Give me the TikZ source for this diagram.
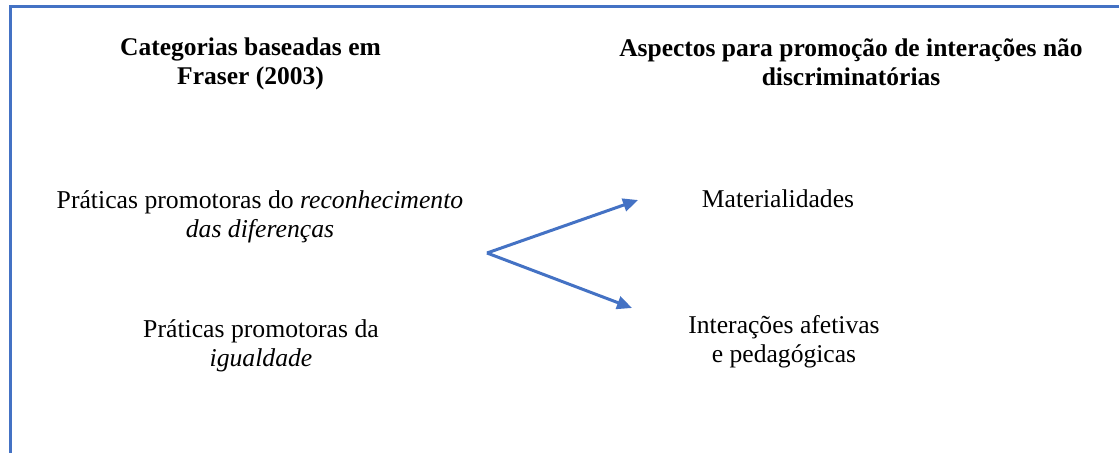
\documentclass[tikz,border=0pt]{standalone}
\usepackage{fontspec}
\setmainfont{Liberation Serif}
\usetikzlibrary{arrows.meta}
\definecolor{frameblue}{HTML}{4472C4}
\tikzset{
  head/.style={align=center, inner sep=0pt, font=\fontsize{25.5}{28.5}\selectfont\bfseries},
  body/.style={align=center, inner sep=0pt, font=\fontsize{25.6}{29}\selectfont},
  leftbody/.style={align=center, inner sep=0pt, font=\fontsize{25.7}{29}\selectfont},
  link/.style={draw=frameblue, line width=3pt, -{Triangle[length=15pt,width=13pt]}},
  frame/.style={draw=frameblue, line width=3pt}
}
\begin{document}
\begin{tikzpicture}[x=1pt,y=-1pt]
\useasboundingbox (0,0) rectangle (1119,453);
\coordinate (ftop) at (1119,6);
\coordinate (fcorner) at (10,6);
\coordinate (fbot) at (10,453);
\draw[frame] (ftop) -- (fcorner) -- (fbot);
\node[head] (h1) at (250.5,64) {Categorias baseadas em\\Fraser (2003)};
\node[head] (h2) at (851,62) {Aspectos para promoção de interações não\\discriminatórias};
\node[leftbody] (l1) at (260,217) {Práticas promotoras do \textit{reconhecimento}\\\textit{das diferenças}};
\node[leftbody] (l2) at (261,346) {Práticas promotoras da\\\textit{igualdade}};
\node[body] (r1) at (778,199) {Materialidades};
\node[body] (r2) at (784,342) {Interações afetivas\\e pedagógicas};
\coordinate (fork) at (487,253);
\coordinate (tip1) at (638,200);
\coordinate (tip2) at (632,308);
\draw[link] (fork) -- (tip1);
\draw[link] (fork) -- (tip2);
\end{tikzpicture}
\end{document}
